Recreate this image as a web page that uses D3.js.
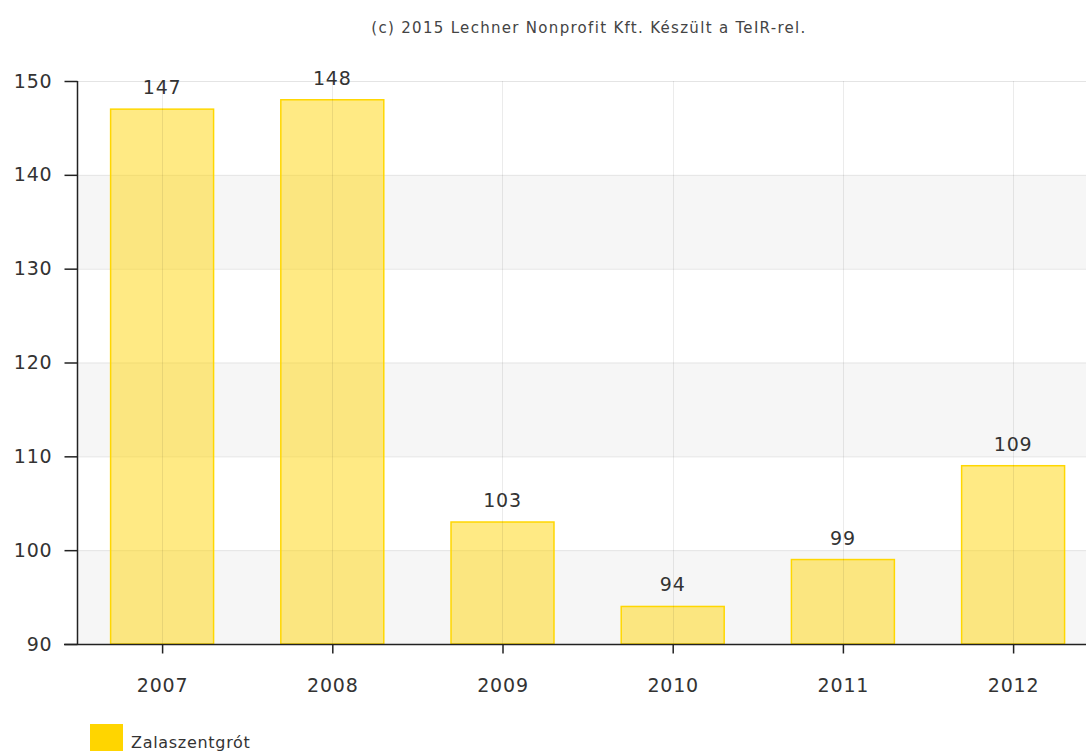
<!DOCTYPE html>
<html>
<head>
<meta charset="utf-8">
<script src="https://cdn.jsdelivr.net/npm/d3@7"></script>
<style>
body { margin: 0; background: #fff; overflow: hidden; }
svg { font-family: "DejaVu Sans", Verdana, sans-serif; }
</style>
</head>
<body>
<div id="chart"></div>
<script>
var years = ["2007", "2008", "2009", "2010", "2011", "2012"];
var values = [147, 148, 103, 94, 99, 109];
var yTicks = [90, 100, 110, 120, 130, 140, 150];
var seriesName = "Zalaszentgrót";
var title = "(c) 2015 Lechner Nonprofit Kft. Készült a TeIR-rel.";

var width = 1086, height = 751;
var plotLeft = 77, plotTop = 81, plotBottom = 644;

var svg = d3.select("#chart")
	.append("svg")
	.attr("width", width)
	.attr("height", height);

var x = d3.scaleBand()
	.domain(years)
	.range([plotLeft, plotLeft + 6 * 170.2])
	.paddingInner(0.395)
	.paddingOuter(0.1975);

var xc = d3.scalePoint()
	.domain(years)
	.range([plotLeft, plotLeft + 6 * 170.2])
	.padding(0.5);

var y = d3.scaleLinear()
	.domain([90, 150])
	.range([plotBottom, plotTop]);

// alternating bands
var bands = [];
for (var i = 0; i < yTicks.length - 1; i++) {
	bands.push([yTicks[i], yTicks[i + 1], i]);
}
svg.selectAll("rect.band")
	.data(bands)
	.enter()
	.append("rect")
	.attr("class", "band")
	.attr("x", plotLeft)
	.attr("y", function (d) { return y(d[1]); })
	.attr("width", width - plotLeft)
	.attr("height", function (d) { return y(d[0]) - y(d[1]); })
	.attr("fill", function (d) { return d[2] % 2 === 0 ? "#f6f6f6" : "#ffffff"; });

// horizontal grid
svg.selectAll("line.hgrid")
	.data(yTicks)
	.enter()
	.append("line")
	.attr("x1", plotLeft)
	.attr("x2", width)
	.attr("y1", function (d) { return y(d) + 0.5; })
	.attr("y2", function (d) { return y(d) + 0.5; })
	.attr("stroke", "#e4e4e4")
	.attr("stroke-width", 1);

// bars
svg.selectAll("rect.bar")
	.data(values)
	.enter()
	.append("rect")
	.attr("class", "bar")
	.attr("x", function (d, i) { return x(years[i]); })
	.attr("y", function (d) { return y(d); })
	.attr("width", x.bandwidth())
	.attr("height", function (d) { return plotBottom - y(d); })
	.attr("fill", "rgba(255, 214, 10, 0.5)")
	.attr("stroke", "#ffd700")
	.attr("stroke-width", 1.5);

// vertical grid through category centers
svg.selectAll("line.vgrid")
	.data(years)
	.enter()
	.append("line")
	.attr("x1", function (d) { return Math.round(xc(d)) + 0.5; })
	.attr("x2", function (d) { return Math.round(xc(d)) + 0.5; })
	.attr("y1", plotTop)
	.attr("y2", plotBottom)
	.attr("stroke", "rgba(0,0,0,0.08)")
	.attr("stroke-width", 1);

// value labels
svg.selectAll("text.val")
	.data(values)
	.enter()
	.append("text")
	.attr("class", "val")
	.attr("x", function (d, i) { return xc(years[i]); })
	.attr("y", function (d) { return y(d) - 15; })
	.attr("text-anchor", "middle")
	.attr("font-size", "19px")
	.attr("letter-spacing", "0.8px")
	.attr("fill", "#333")
	.text(function (d) { return d; });

// y axis
var yAxis = svg.append("g")
	.attr("transform", "translate(" + (plotLeft + 0.5) + ",0)")
	.call(d3.axisLeft(y).tickValues(yTicks).tickSize(13).tickPadding(12).tickFormat(d3.format("d")));
yAxis.select(".domain").attr("stroke", "#222").attr("stroke-width", 1.5).attr("d", "M0," + plotTop + "V" + plotBottom);
yAxis.selectAll(".tick line").attr("stroke", "#222").attr("stroke-width", 1.5);
yAxis.selectAll(".tick text").attr("font-size", "19px").attr("letter-spacing", "0.8px").attr("fill", "#333")
	.attr("font-family", "DejaVu Sans, sans-serif");

// x axis
var xAxis = svg.append("g")
	.attr("transform", "translate(0," + (plotBottom + 0.5) + ")")
	.call(d3.axisBottom(xc).tickSize(9).tickPadding(25));
xAxis.select(".domain").attr("stroke", "#222").attr("stroke-width", 1.5).attr("d", "M" + (plotLeft - 13) + ",0H" + width);
xAxis.selectAll(".tick line").attr("stroke", "#222").attr("stroke-width", 1.5);
xAxis.selectAll(".tick text").attr("font-size", "19px").attr("letter-spacing", "0.8px").attr("fill", "#333")
	.attr("font-family", "DejaVu Sans, sans-serif");

// title
svg.append("text")
	.attr("x", 589)
	.attr("y", 33)
	.attr("text-anchor", "middle")
	.attr("font-size", "15px")
	.attr("letter-spacing", "1.3px")
	.attr("fill", "#444")
	.text(title);

// legend
svg.append("rect")
	.attr("x", 90)
	.attr("y", 724)
	.attr("width", 33)
	.attr("height", 30)
	.attr("fill", "#ffd500");
svg.append("text")
	.attr("x", 131)
	.attr("y", 748)
	.attr("font-size", "16px")
	.attr("letter-spacing", "0.7px")
	.attr("fill", "#333")
	.text(seriesName);
</script>
</body>
</html>
